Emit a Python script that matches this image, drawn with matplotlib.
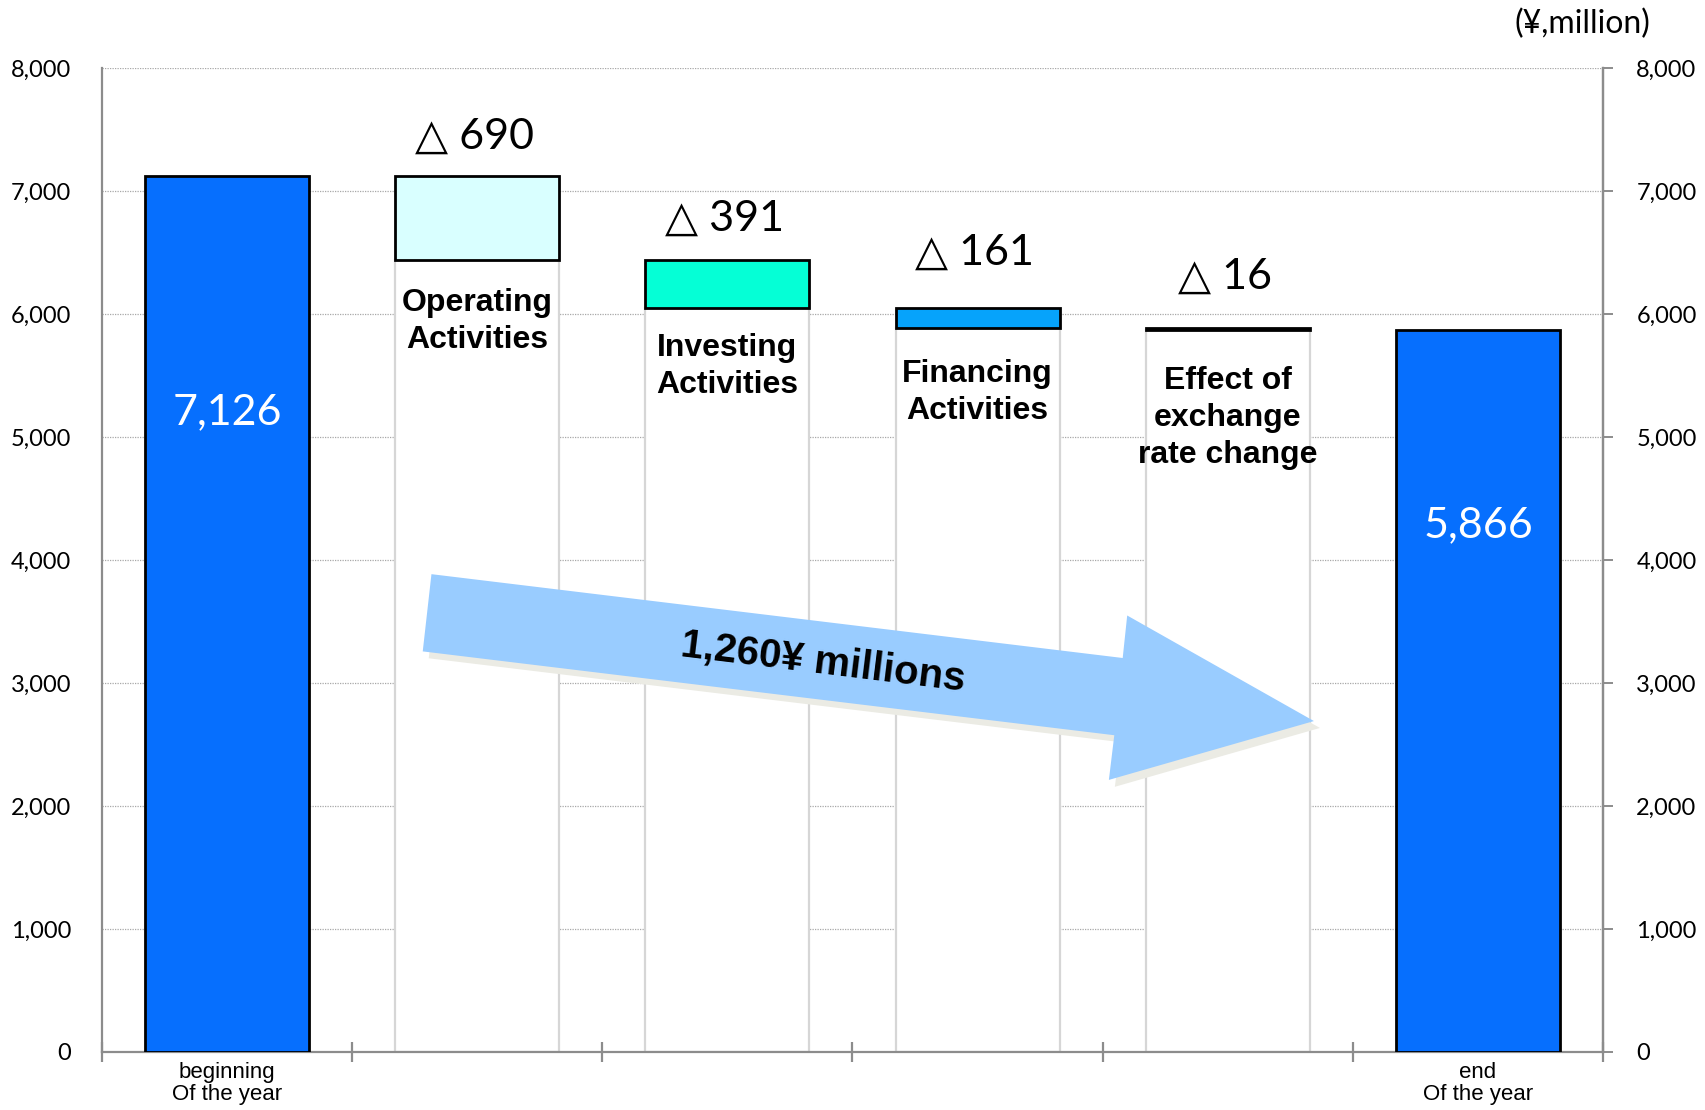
import matplotlib
matplotlib.use("Agg")
import matplotlib.pyplot as plt
from matplotlib.patches import Polygon
from matplotlib.ticker import FuncFormatter

# ---------------- data ----------------
categories = ["beginning\nOf the year", "Operating\nActivities", "Investing\nActivities",
              "Financing\nActivities", "Effect of\nexchange\nrate change", "end\nOf the year"]
beginning_balance = 7126
changes = [-690, -391, -161, -16]
ending_balance = 5866
delta_labels = ["△ 690", "△ 391", "△ 161", "△ 16"]
total_change_label = "1,260¥ millions"
unit_label = "(¥,million)"
yticks = [0, 1000, 2000, 3000, 4000, 5000, 6000, 7000, 8000]

# ---------------- style ----------------
BLUE = "#066ffe"
float_colors = ["#d9ffff", "#05ffd6", "#06a3fb", "#000000"]
GRAY = "#8c8c8c"
NUM_FONT = ["Lato", "DejaVu Sans"]

fig = plt.figure(figsize=(17.05, 11.10), dpi=100)
ax = fig.add_axes([0.0598, 0.0523, 0.8804, 0.8864])
ax.set_xlim(-0.5, len(categories) - 0.5)
ax.set_ylim(0, 8000)

width = 0.655
x = list(range(len(categories)))

# start / end bars
ax.bar([x[0], x[-1]], [beginning_balance, ending_balance], width=width,
       color=BLUE, edgecolor="black", linewidth=2, zorder=3)

# floating bars + invisible base bars
label_offsets = [-20, -18, -22, -26]
delta_offsets = [28, 30, 40, 37]
running = beginning_balance
for i, c in enumerate(changes):
    top = running
    bottom = running + c
    xi = x[i + 1]
    ax.bar(xi, bottom, width=width, color="white", edgecolor="#d6d6d6",
           linewidth=1.6, zorder=2)
    ax.bar(xi, top - bottom, bottom=bottom, width=width, color=float_colors[i],
           edgecolor="black", linewidth=2, zorder=3)
    ax.annotate(delta_labels[i], (xi, top), xytext=(-2, delta_offsets[i]),
                textcoords="offset points", ha="center", va="center", fontsize=31,
                family=NUM_FONT, zorder=5)
    ax.annotate(categories[xi], (xi, bottom), xytext=(0, label_offsets[i]),
                textcoords="offset points", ha="center", va="top", fontsize=23,
                fontweight="bold", family="Liberation Sans", linespacing=1.3, zorder=5)
    running = bottom

# value labels inside blue bars
for xi, v in [(x[0], beginning_balance), (x[-1], ending_balance)]:
    ax.text(xi, v * 0.73, f"{v:,}", ha="center", va="center", color="white",
            fontsize=31, family=NUM_FONT, zorder=5)

# grid
ax.set_yticks(yticks)
ax.yaxis.grid(True, color="#a8a8a8", linestyle=(0, (1, 1)), linewidth=0.9, zorder=0)
ax.set_axisbelow(True)

# spines
ax.spines["top"].set_visible(False)
for s in ["left", "right", "bottom"]:
    ax.spines[s].set_color(GRAY)
    ax.spines[s].set_linewidth(1.6)

fmt = FuncFormatter(lambda v, p: f"{int(v):,}")
ax.yaxis.set_major_formatter(fmt)
ax.tick_params(axis="y", left=False, length=0, pad=22, labelsize=17)
for lab in ax.get_yticklabels():
    lab.set_family(NUM_FONT)

# x ticks: boundaries (major) and centers (minor, labelled)
ax.set_xticks([i - 0.5 for i in range(len(categories) + 1)])
ax.set_xticklabels([""] * (len(categories) + 1))
ax.tick_params(axis="x", which="major", direction="inout", length=14, width=1.6, color=GRAY)
ax.set_xticks(x, minor=True)
xlabels = [categories[0]] + [""] * (len(categories) - 2) + [categories[-1]]
ax.set_xticklabels(xlabels, minor=True, fontsize=16, family="Liberation Sans",
                   linespacing=1.1)
ax.tick_params(axis="x", which="minor", direction="in", length=6, width=1.4,
               color=GRAY, pad=7)

# right axis
ax2 = ax.twinx()
ax2.set_ylim(ax.get_ylim())
ax2.set_yticks(yticks)
ax2.yaxis.set_major_formatter(fmt)
ax2.tick_params(axis="y", direction="out", length=7, width=1.4, color=GRAY, pad=17, labelsize=17)
for lab in ax2.get_yticklabels():
    lab.set_family(NUM_FONT)
for s in ["top", "left", "bottom"]:
    ax2.spines[s].set_visible(False)
ax2.spines["right"].set_color(GRAY)
ax2.spines["right"].set_linewidth(1.6)

# unit label
fig.text(1650 / 1705, 1 - 24 / 1110, unit_label, ha="right", va="center",
         fontsize=23, family=NUM_FONT)

# big arrow (annotation, axes-fraction geometry)
arrow_pts = [(0.2195, 0.4856), (0.680, 0.4004), (0.683, 0.4436), (0.8074, 0.3363),
             (0.6708, 0.2765), (0.6744, 0.3219), (0.2137, 0.4071)]
shadow = [(px + 0.004, py - 0.007) for px, py in arrow_pts]
ax.add_patch(Polygon(shadow, closed=True, transform=ax.transAxes, facecolor="#ebebe4",
                     edgecolor="none", zorder=6))
ax.add_patch(Polygon(arrow_pts, closed=True, transform=ax.transAxes, facecolor="#99ccff",
                     edgecolor="none", zorder=7))
ax.text(0.4804, 0.396, total_change_label, transform=ax.transAxes, rotation=-7,
        ha="center", va="center", fontsize=29, fontweight="bold",
        family="Liberation Sans", rotation_mode="anchor", zorder=8)

fig.savefig("out.png", dpi=100)
